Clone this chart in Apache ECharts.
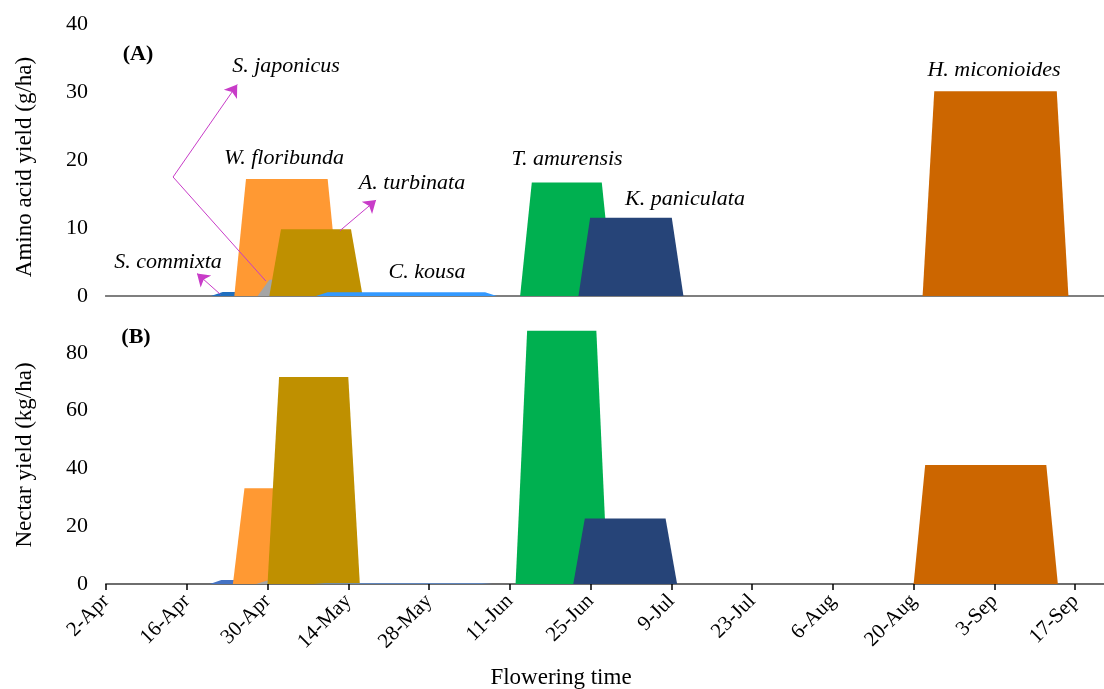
<!DOCTYPE html>
<html>
<head>
<meta charset="utf-8">
<script src="https://cdn.jsdelivr.net/npm/echarts@6/dist/echarts.min.js"></script>
<style>
  html, body { margin: 0; padding: 0; background: #fff; }
  #chart { width: 1104px; height: 689px; }
</style>
</head>
<body>
<div id="chart"></div>
<script>
// Date tick labels (every 14 days from 2-Apr)
const tickLabels = ['2-Apr', '16-Apr', '30-Apr', '14-May', '28-May', '11-Jun', '25-Jun',
                    '9-Jul', '23-Jul', '6-Aug', '20-Aug', '3-Sep', '17-Sep'];

// Species, drawing order (later ones overlay earlier ones)
const species = ['S. commixta', 'W. floribunda', 'S. japonicus', 'A. turbinata',
                 'C. kousa', 'T. amurensis', 'K. paniculata', 'H. miconioides'];

// Flowering periods: [onset, full bloom begins, full bloom ends, end]
const sCommixtaPeriod    = ['20-Apr', '22-Apr', '26-Apr', '28-Apr'];
const wFloribundaPeriod  = ['24-Apr', '26-Apr', '10-May', '12-May'];
const sJaponicusPeriod   = ['28-Apr', '30-Apr', '12-May', '14-May'];
const aTurbinataPeriod   = ['30-Apr', '2-May', '14-May', '16-May'];
const cKousaPeriod       = ['8-May', '10-May', '6-Jun', '8-Jun'];
const tAmurensisPeriod   = ['12-Jun', '14-Jun', '26-Jun', '28-Jun'];
const kPaniculataPeriod  = ['22-Jun', '24-Jun', '8-Jul', '10-Jul'];
const hMiconioidesPeriod = ['20-Aug', '22-Aug', '12-Sep', '14-Sep'];
const periods = [sCommixtaPeriod, wFloribundaPeriod, sJaponicusPeriod, aTurbinataPeriod,
                 cKousaPeriod, tAmurensisPeriod, kPaniculataPeriod, hMiconioidesPeriod];

// (A) amino acid yield, g/ha
const aminoAcidYield = [0.6, 17.2, 2.4, 9.8, 0.55, 16.7, 11.5, 30.1];
// (B) nectar yield, kg/ha
const nectarYield    = [1.4, 33.1, 1.2, 71.6, 0.3, 87.6, 22.7, 41.2];

const colorsA = ['#1F6FBF', '#FF9933', '#A5A5A5', '#BF9000', '#3399FF', '#00B050', '#264478', '#CC6600'];
const colorsB = ['#4472C4', '#FF9933', '#A5A5A5', '#BF9000', '#5B8ED6', '#00B050', '#264478', '#CC6600'];

const MONTHS = {Jan:0, Feb:1, Mar:2, Apr:3, May:4, Jun:5, Jul:6, Aug:7, Sep:8, Oct:9, Nov:10, Dec:11};
const ORIGIN = Date.UTC(2000, 3, 2);
function dayOf(label) {
  const [d, m] = label.split('-');
  return Math.round((Date.UTC(2000, MONTHS[m], +d) - ORIGIN) / 86400000);
}

function shape(period, v) {
  return [[dayOf(period[0]), 0], [dayOf(period[1]), v], [dayOf(period[2]), v], [dayOf(period[3]), 0]];
}

const FONT = '"Liberation Serif", "Times New Roman", serif';

const series = [];
species.forEach((name, i) => {
  series.push({
    type: 'line', name: name, xAxisIndex: 0, yAxisIndex: 0,
    data: shape(periods[i], aminoAcidYield[i]),
    symbol: 'none', lineStyle: { width: 0 }, silent: true,
    areaStyle: { color: colorsA[i], opacity: 1 }, z: 2
  });
  series.push({
    type: 'line', name: name, xAxisIndex: 2, yAxisIndex: 1,
    data: shape(periods[i], nectarYield[i]),
    symbol: 'none', lineStyle: { width: 0 }, silent: true,
    areaStyle: { color: colorsB[i], opacity: 1 }, z: 2
  });
});

// Pointer lines for the small species in panel (A)
const ARROW = '#C83CC8';
series.push({
  type: 'lines', coordinateSystem: 'cartesian2d', xAxisIndex: 0, yAxisIndex: 0,
  symbol: ['none', 'none'], lineStyle: { color: ARROW, width: 1, opacity: 1 }, z: 5,
  data: [{ coords: [[27.4, 2.2], [11.5, 17.5]] }]
});
series.push({
  type: 'lines', coordinateSystem: 'cartesian2d', xAxisIndex: 0, yAxisIndex: 0,
  symbol: ['none', 'arrow'], symbolSize: 12, lineStyle: { color: ARROW, width: 1, opacity: 1 }, z: 5,
  data: [
    { coords: [[11.5, 17.5], [22.5, 31.1]] },
    { coords: [[19.6, 0.25], [15.6, 3.3]] },
    { coords: [[40.1, 9.6], [46.3, 14.1]] }
  ]
});

function tickFmt(v) {
  const i = v / 14;
  return Number.isInteger(i) && tickLabels[i] ? tickLabels[i] : '';
}

const hiddenAxis = { axisLabel: { show: false }, axisTick: { show: false }, splitLine: { show: false } };

function txt(text, x, y, opts) {
  return {
    type: 'text', x: x, y: y, z: 10,
    style: Object.assign({ text: text, align: 'center', verticalAlign: 'middle',
      font: 'italic 22px ' + FONT, fill: '#000' }, opts || {})
  };
}

const option = {
  backgroundColor: '#fff',
  animation: false,
  grid: [
    { left: 106, top: 24, right: 0, height: 272 },
    { left: 106, top: 310, right: 0, height: 274 }
  ],
  xAxis: [
    Object.assign({ type: 'value', gridIndex: 0, min: 0, max: 171.1, interval: 14, position: 'bottom',
      axisLine: { show: true, onZero: false, lineStyle: { color: '#7F7F7F', width: 2 } } }, hiddenAxis),
    Object.assign({ type: 'value', gridIndex: 0, min: 0, max: 171.1, interval: 14, position: 'top',
      axisLine: { show: true, lineStyle: { color: '#7F7F7F', width: 2 } } }, hiddenAxis),
    { type: 'value', gridIndex: 1, min: 0, max: 173.0, interval: 14, position: 'bottom',
      axisLine: { show: true, onZero: false, lineStyle: { color: '#000', width: 1.5 } },
      axisTick: { show: true, length: 6, lineStyle: { color: '#000', width: 1.5 } },
      splitLine: { show: false },
      axisLabel: { rotate: 45, margin: 14, formatter: tickFmt, color: '#000',
        fontFamily: FONT, fontSize: 21, showMaxLabel: false } },
    Object.assign({ type: 'value', gridIndex: 1, min: 0, max: 173.0, interval: 14, position: 'top',
      axisLine: { show: true, lineStyle: { color: '#7F7F7F', width: 1.5 } } }, hiddenAxis)
  ],
  yAxis: [
    { type: 'value', gridIndex: 0, min: 0, max: 40, interval: 10,
      axisLine: { show: false }, axisTick: { show: false }, splitLine: { show: false },
      axisLabel: { margin: 18, color: '#000', fontFamily: FONT, fontSize: 22 } },
    { type: 'value', gridIndex: 1, min: 0, max: 94.8, interval: 20,
      axisLine: { show: false }, axisTick: { show: false }, splitLine: { show: false },
      axisLabel: { margin: 18, color: '#000', fontFamily: FONT, fontSize: 22, showMaxLabel: false,
        formatter: v => (v % 20 === 0 ? String(v) : '') } }
  ],
  series: series,
  graphic: [
    Object.assign(txt('Amino acid yield (g/ha)', 25, 167, { font: '23px ' + FONT }), { rotation: Math.PI / 2 }),
    Object.assign(txt('Nectar yield (kg/ha)', 25, 455, { font: '23px ' + FONT }), { rotation: Math.PI / 2 }),
    txt('Flowering time', 561, 678, { font: '23px ' + FONT }),
    txt('(A)', 138, 54, { font: 'bold 22px ' + FONT }),
    txt('(B)', 136, 337, { font: 'bold 22px ' + FONT }),
    txt('S. japonicus', 286, 66),
    txt('W. floribunda', 284, 158),
    txt('A. turbinata', 412, 183),
    txt('C. kousa', 427, 272),
    txt('S. commixta', 168, 262),
    txt('T. amurensis', 567, 159),
    txt('K. paniculata', 685, 199),
    txt('H. miconioides', 994, 70)
  ]
};

const chart = echarts.init(document.getElementById('chart'), null, { renderer: 'canvas' });
chart.setOption(option);
</script>
</body>
</html>
